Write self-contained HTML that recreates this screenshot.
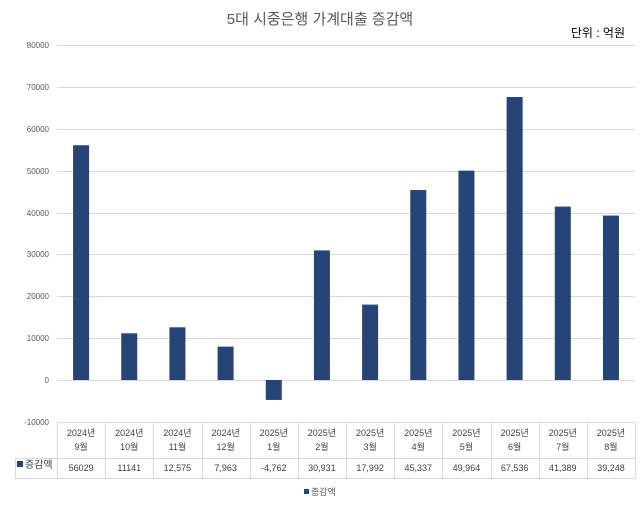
<!DOCTYPE html>
<html><head><meta charset="utf-8"><style>
body{margin:0;background:#fff;width:640px;height:504px;overflow:hidden;font-family:"Liberation Sans","Noto Sans CJK KR",sans-serif}
</style></head><body>
<svg width="640" height="504" xmlns="http://www.w3.org/2000/svg" font-family="Liberation Sans, Noto Sans CJK KR, sans-serif">
<text x="320" y="24" text-anchor="middle" font-size="15" fill="#595959">5대 시중은행 가계대출 증감액</text>
<text x="625" y="37" text-anchor="end" font-size="12" fill="#000">단위 : 억원</text>
<g stroke="#d9d9d9" stroke-width="1">
<line x1="57" x2="635" y1="45.5" y2="45.5"/><line x1="57" x2="635" y1="87.5" y2="87.5"/>
<line x1="57" x2="635" y1="129.5" y2="129.5"/><line x1="57" x2="635" y1="171.5" y2="171.5"/>
<line x1="57" x2="635" y1="213.5" y2="213.5"/><line x1="57" x2="635" y1="254.5" y2="254.5"/>
<line x1="57" x2="635" y1="296.5" y2="296.5"/><line x1="57" x2="635" y1="338.5" y2="338.5"/>
<line x1="57" x2="635" y1="380.5" y2="380.5"/>
</g>
<g font-size="8" fill="#595959" text-anchor="end">
<text x="49" y="48">80000</text><text x="49" y="90">70000</text><text x="49" y="132">60000</text>
<text x="49" y="174">50000</text><text x="49" y="216">40000</text><text x="49" y="257">30000</text>
<text x="49" y="299">20000</text><text x="49" y="341">10000</text><text x="49" y="383">0</text>
<text x="49" y="425">-10000</text>
</g>
<g fill="#264478" id="bars"></g>
<g stroke="#d9d9d9" stroke-width="1" id="tbl"></g>
<g font-size="9" fill="#404040" text-anchor="middle" id="txt"></g>
<rect x="17" y="461" width="6" height="6" fill="#264478"/>
<text x="25" y="468" font-size="10" fill="#404040">증감액</text>
<rect x="304" y="489" width="5" height="5" fill="#264478"/>
<text x="311" y="495" font-size="9" fill="#595959">증감액</text>
<script>
var v=[56029,11141,12575,7963,-4762,30931,17992,45337,49964,67536,41389,39248];
var lab=["56029","11141","12,575","7,963","-4,762","30,931","17,992","45,337","49,964","67,536","41,389","39,248"];
var y1=["2024년","2024년","2024년","2024년","2025년","2025년","2025년","2025년","2025년","2025년","2025년","2025년"];
var m=["9월","10월","11월","12월","1월","2월","3월","4월","5월","6월","7월","8월"];
var x0=57,w=48.17,s=41.9/10000,z=380;
var ns="http://www.w3.org/2000/svg",b=document.getElementById("bars"),t=document.getElementById("tbl"),tx=document.getElementById("txt");
function el(p,n,a,c){var e=document.createElementNS(ns,n);for(var k in a)e.setAttribute(k,a[k]);if(c)e.textContent=c;p.appendChild(e);}
for(var i=0;i<12;i++){var cx=x0+w*i+w/2,h=v[i]*s;
el(b,"rect",{x:cx-8,y:h>0?z-h:z,width:16,height:Math.abs(h)});
el(tx,"text",{x:cx,y:436},y1[i]);el(tx,"text",{x:cx,y:450},m[i]);el(tx,"text",{x:cx,y:471},lab[i]);}
for(var i=0;i<=12;i++){var x=Math.round(x0+w*i)+.5;el(t,"line",{x1:x,x2:x,y1:422,y2:478});}
el(t,"line",{x1:57,x2:635,y1:422.5,y2:422.5});
el(t,"line",{x1:15,x2:635,y1:458.5,y2:458.5});
el(t,"line",{x1:15,x2:635,y1:478.5,y2:478.5});
el(t,"line",{x1:15.5,x2:15.5,y1:458,y2:478});
</script>
</svg>
</body></html>
